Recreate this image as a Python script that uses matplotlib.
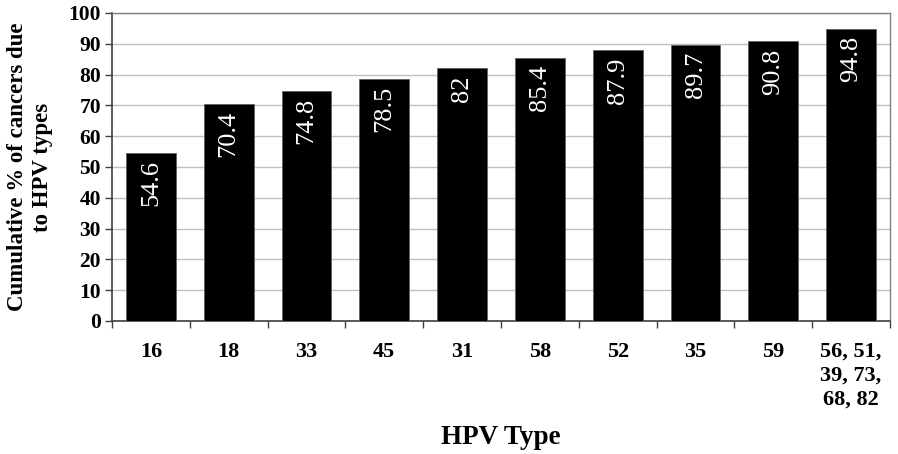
import numpy as np
import matplotlib
matplotlib.use('Agg')
import matplotlib.pyplot as plt

hpv_types = ['16', '18', '33', '45', '31', '58', '52', '35', '59', '56, 51,\n39, 73,\n68, 82']
cumulative_pct = [54.6, 70.4, 74.8, 78.5, 82, 85.4, 87.9, 89.7, 90.8, 94.8]
value_labels = ['54.6', '70.4', '74.8', '78.5', '82', '85.4', '87.9', '89.7', '90.8', '94.8']

plt.rcParams['font.family'] = ['Liberation Serif', 'DejaVu Serif']

fig = plt.figure(figsize=(8.98, 4.54), dpi=100)
ax = fig.add_axes([112 / 898, 1 - 321 / 454, (890 - 112) / 898, (321 - 13) / 454])

x = np.arange(len(hpv_types))
bars = ax.bar(x, cumulative_pct, width=0.64, color='black', edgecolor='#606060', linewidth=0.6, zorder=3)

# value labels, white and rotated, just under each bar top
for xi, v, lab in zip(x, cumulative_pct, value_labels):
    ax.annotate(lab, (xi, v), xytext=(0, -5), textcoords='offset points',
                rotation=90, ha='center', va='top', color='white',
                fontsize=19, zorder=4)

ax.set_xlim(-0.5, len(hpv_types) - 0.5)
ax.set_ylim(0, 100)
ax.set_yticks(np.arange(0, 101, 10))
ax.yaxis.grid(True, color='#c0c0c0', linewidth=1.0, zorder=0)
ax.set_axisbelow(True)

ax.set_xticks(x)
ax.set_xticklabels(hpv_types, fontsize=16, fontweight='bold', linespacing=1.25, va='top')
ax.set_xticks(np.arange(-0.5, len(hpv_types)), minor=True)
ax.tick_params(axis='x', which='major', length=0, pad=15)
ax.tick_params(axis='x', which='minor', length=5, width=1, color='#404040', direction='out')
ax.tick_params(axis='y', length=5, width=1, color='#404040', direction='out', pad=3,
               labelsize=15.5)
for t in ax.get_yticklabels():
    t.set_fontweight('bold')

for s in ['left', 'bottom']:
    ax.spines[s].set_color('#404040')
    ax.spines[s].set_linewidth(1.2)
for s in ['top', 'right']:
    ax.spines[s].set_color('#808080')
    ax.spines[s].set_linewidth(1.0)

ax.set_ylabel('Cumulative % of cancers due\nto HPV types', fontsize=16.5, fontweight='bold',
              linespacing=1.27, labelpad=11)
ax.set_xlabel('HPV Type', fontsize=19.5, fontweight='bold', labelpad=11)

fig.savefig('out.png', dpi=100)
